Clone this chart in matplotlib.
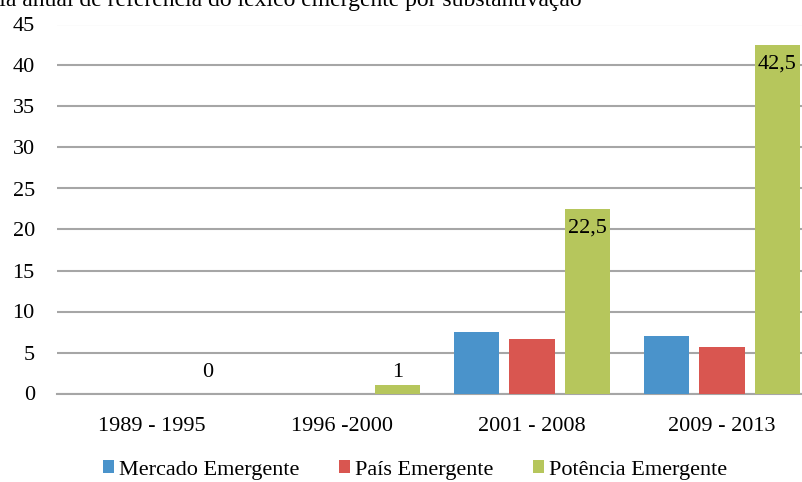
import matplotlib
matplotlib.use("Agg")
import matplotlib.pyplot as plt
import numpy as np

plt.rcParams['font.family'] = ['Liberation Serif', 'DejaVu Serif']

title = "Média anual de referência do léxico emergente por substantivação"
categories = ["1989 - 1995", "1996 -2000", "2001 - 2008", "2009 - 2013"]
series_names = ["Mercado Emergente", "País Emergente", "Potência Emergente"]
mercado = [0, 0, 7.5, 7.0]
pais = [0, 0, 6.6, 5.7]
potencia = [0, 1, 22.5, 42.5]
potencia_labels = ["0", "1", "22,5", "42,5"]
colors = ["#4A93CB", "#D95650", "#B6C65C"]

FS = 16

fig = plt.figure(figsize=(8.03, 4.82), dpi=100)
ax = fig.add_axes([57/803, (482-393.5)/482, 760/803, (393.5-24.5)/482])

x = np.arange(len(categories))
bw = 0.237
step = 0.292
for i, (vals, c, name) in enumerate(zip([mercado, pais, potencia], colors, series_names)):
    ax.bar(x + (i-1)*step, vals, bw, color=c, label=name, zorder=3)

for xi, v, lab in zip(x, potencia, potencia_labels):
    xpos = xi + step
    if v >= 10:
        ax.annotate(lab, (xpos, v), xytext=(0, -7), textcoords='offset points',
                    ha='center', va='top', fontsize=FS, zorder=4)
    else:
        ax.annotate(lab, (xpos, 2.6), ha='center', va='center', fontsize=FS, zorder=4)

ax.set_ylim(0, 45)
ax.set_xlim(-0.5, 3.5)
ax.set_yticks(np.arange(0, 46, 5))
ax.yaxis.grid(True, color='#A6A6A6', lw=1.5, zorder=0)
ax.set_axisbelow(True)
for s in ['left', 'right', 'top']:
    ax.spines[s].set_visible(False)
ax.spines['bottom'].set_color('#A6A6A6')
ax.spines['bottom'].set_linewidth(1.5)
ax.tick_params(axis='y', length=0, pad=16, labelsize=FS)
ax.tick_params(axis='x', length=0, pad=17, labelsize=FS)
ax.set_xticks(x)
ax.set_xticklabels(categories)

fig.text(582/803, 1 - 6/482, title, ha='right', va='baseline', fontsize=17)

handles, labels = ax.get_legend_handles_labels()
fig.legend(handles, labels, loc='center', bbox_to_anchor=(415/803, 1 - 470/482), ncol=3,
           frameon=False, fontsize=FS, handlelength=0.5, handleheight=0.5,
           handletextpad=0.2, columnspacing=1.8, borderpad=0)

fig.savefig("out.png", dpi=100)
